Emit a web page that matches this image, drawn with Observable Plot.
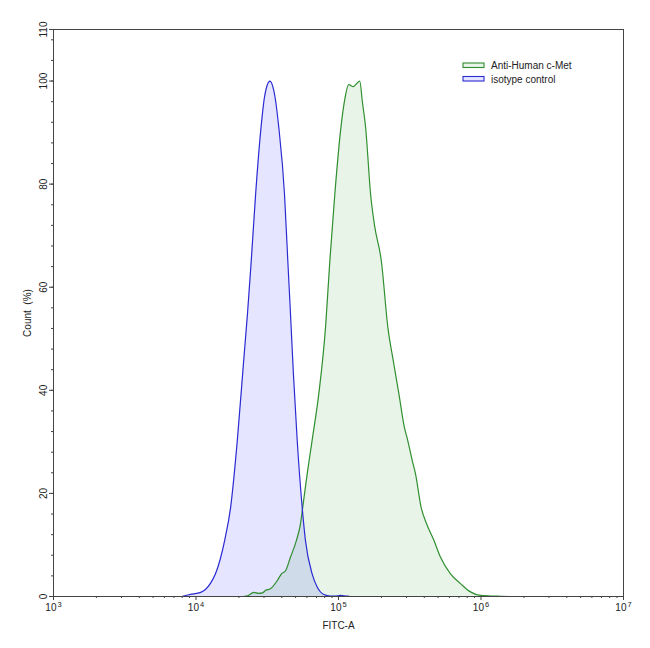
<!DOCTYPE html>
<html><head><meta charset="utf-8">
<script src="https://cdn.jsdelivr.net/npm/d3@7"></script>
<script src="https://cdn.jsdelivr.net/npm/@observablehq/plot@0.6"></script>
<style>body{margin:0;background:#fff}</style>
</head><body><div id="chart"></div>
<script>
// isotype control (blue)
const isoX = [7940, 8430, 9140, 10800, 12600, 13700, 15900, 17500, 19500, 21500, 23000, 24400, 26200, 28600, 30300, 33000, 35800, 38100, 41800, 44100, 46000, 48300, 51300, 55600, 58600, 65300, 71000, 78900, 87900, 95000, 103000, 112000, 121000, 140000];
const isoY = [0, 0.2, 0.4, 0.8, 2.5, 4.4, 10.9, 17.3, 30.3, 45, 55, 65, 78, 91, 97, 100, 97, 91, 78, 65, 55, 43, 30.3, 17.3, 10.9, 4.4, 1.8, 0.4, 0.1, 0.1, 0.2, 0.1, 0, 0];
// Anti-Human c-Met (green)
const metX = [21400, 23300, 25400, 27500, 29300, 30800, 33300, 37200, 39800, 42500, 46000, 50700, 54100, 56100, 60300, 65300, 72800, 81100, 86900, 94200, 104000, 110000, 118000, 127000, 134000, 141000, 147000, 155000, 168000, 179000, 200000, 222000, 242000, 265000, 290000, 306000, 329000, 347000, 380000, 415000, 467000, 520000, 611000, 718000, 843000, 991000, 1170000, 1370000, 1610000];
const metY = [0, 0.2, 0.8, 0.6, 0.7, 1.2, 1.5, 3.1, 4.4, 5.0, 7.6, 10.9, 14.1, 17.3, 23.8, 30.3, 39.4, 52.2, 65, 78, 91, 96, 99.3, 98.9, 99.5, 100, 96, 91, 78, 72, 65, 52.2, 45.8, 39.4, 32.8, 30.3, 26.4, 23.8, 17.3, 14.1, 10.9, 7.6, 4.4, 2.5, 0.9, 0.2, 0.1, 0.05, 0];

const seriesNames = ["Anti-Human c-Met", "isotype control"];
const seriesStroke = ["#2f8f2f", "#2a2ad2"];
const seriesFill = ["#008000", "#0000ff"];
const seriesFillOpacity = [0.09, 0.1];

const xMajor = [1e3, 1e4, 1e5, 1e6, 1e7];
const xMinor = [2e3,3e3,4e3,5e3,6e3,7e3,8e3,9e3, 2e4,3e4,4e4,5e4,6e4,7e4,8e4,9e4, 2e5,3e5,4e5,5e5,6e5,7e5,8e5,9e5, 2e6,3e6,4e6,5e6,6e6,7e6,8e6,9e6];
const yMajor = [0, 20, 40, 60, 80, 100, 110];
const yMinor = [0,4,8,12,16,20,24,28,32,36,40,44,48,52,56,60,64,68,72,76,80,84,88,92,96,100,104,108];

const iso = isoX.map((x, i) => ({x, y: isoY[i]}));
const met = metX.map((x, i) => ({x, y: metY[i]}));

const FONT = "'Liberation Sans', Arial, Helvetica, sans-serif";
const curve = "monotone-x";

const plot = Plot.plot({
  width: 650,
  height: 648,
  marginLeft: 53,
  marginRight: 27,
  marginTop: 29,
  marginBottom: 52,
  style: {fontFamily: FONT, fontSize: "10px", color: "#222", background: "#fff"},
  x: {type: "log", domain: [1e3, 1e7]},
  y: {domain: [0, 110]},
  marks: [
    Plot.areaY(met, {x: "x", y: "y", fill: seriesFill[0], fillOpacity: seriesFillOpacity[0], curve}),
    Plot.areaY(iso, {x: "x", y: "y", fill: seriesFill[1], fillOpacity: seriesFillOpacity[1], curve}),
    Plot.lineY(met, {x: "x", y: "y", stroke: seriesStroke[0], strokeWidth: 1.2, curve}),
    Plot.lineY(iso, {x: "x", y: "y", stroke: seriesStroke[1], strokeWidth: 1.2, curve}),
    Plot.axisX({ticks: xMinor, tickSize: 2, tickFormat: () => "", stroke: "#444", label: null}),
    Plot.axisX({ticks: xMajor, tickSize: 4, tickPadding: 3, tickFormat: d => "10^" + Math.round(Math.log10(d)), stroke: "#444",
      label: "FITC-A", labelAnchor: "center", labelOffset: 32, labelArrow: "none"}),
    Plot.axisY({ticks: yMinor, tickSize: 2, tickFormat: () => "", stroke: "#444", label: null}),
    Plot.axisY({ticks: yMajor, tickSize: 4, tickPadding: 3, tickRotate: -90, stroke: "#444",
      label: "Count  (%)", labelAnchor: "center", labelOffset: 30, labelArrow: "none"}),
    Plot.frame({stroke: "#444", strokeWidth: 1})
  ]
});

document.getElementById("chart").appendChild(plot);

// superscript exponents on x tick labels
const svg = d3.select(plot);
svg.selectAll("g[aria-label='x-axis tick label'] text").each(function() {
  const t = d3.select(this);
  const s = t.text();
  if (!s.includes("^")) return;
  const [base, exp] = s.split("^");
  t.text(base);
  t.append("tspan").attr("dy", "-0.45em").attr("font-size", "7.5px").attr("dx", "1").text(exp);
});

// legend inside the plot area
const lg = svg.append("g").attr("font-family", FONT).attr("font-size", "10px").attr("fill", "#222").attr("text-anchor", "start");
seriesNames.forEach((name, i) => {
  const y0 = 63 + i * 13.5;
  lg.append("rect").attr("x", 463).attr("y", y0).attr("width", 21).attr("height", 4.5)
    .attr("fill", seriesFill[i]).attr("fill-opacity", seriesFillOpacity[i])
    .attr("stroke", seriesStroke[i]).attr("stroke-width", 1.1);
  lg.append("text").attr("x", 491).attr("y", y0 + 6).text(name);
});
</script>
</body></html>
